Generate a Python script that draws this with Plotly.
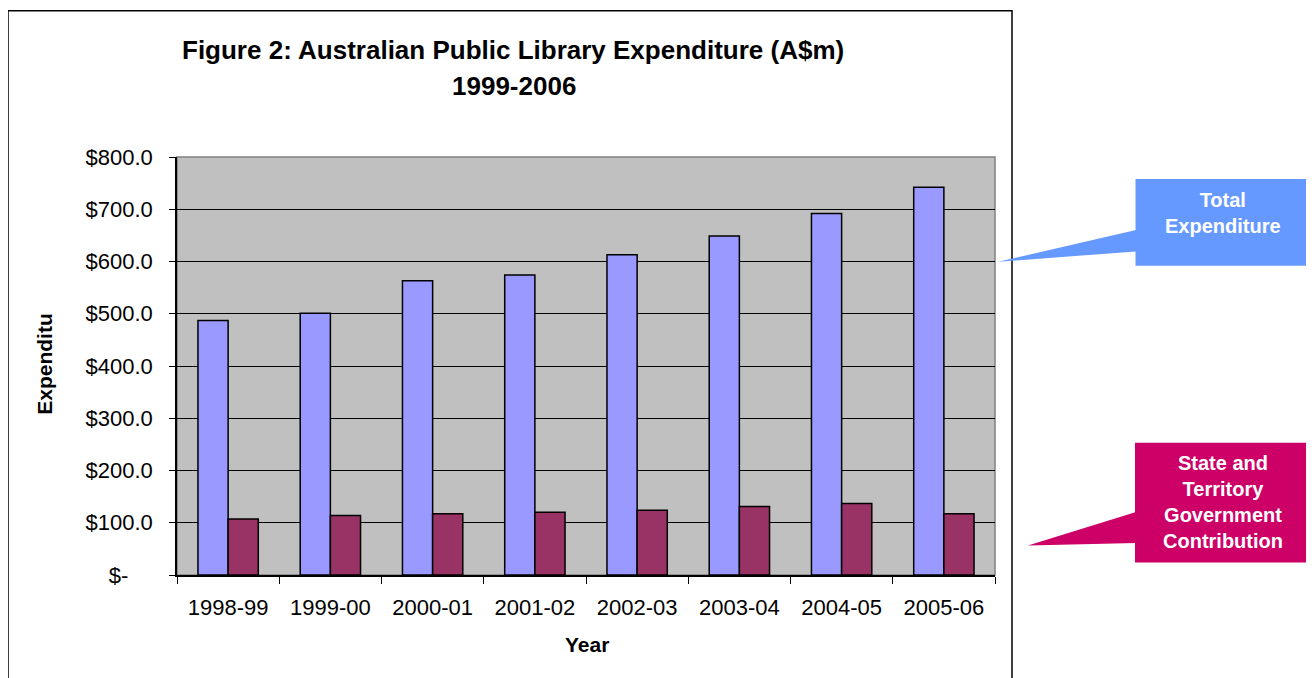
import plotly.graph_objects as go

years = ["1998-99", "1999-00", "2000-01", "2001-02", "2002-03", "2003-04", "2004-05", "2005-06"]
total_expenditure = [487, 501, 563, 574, 613, 649, 692, 742]
state_contribution = [107, 114, 117, 120, 124, 131, 137, 117]
y_tick_vals = [0, 100, 200, 300, 400, 500, 600, 700, 800]
y_tick_text = ["$-" + "\u00a0" * 4, "$100.0", "$200.0", "$300.0", "$400.0", "$500.0", "$600.0", "$700.0", "$800.0"]

FONT = "Liberation Sans, Arial, sans-serif"

# page body margin offset
OFF = 8
# plot area in screen pixels
L, R, T, B = 177, 995, 157, 575.5
W, H = R - L, B - T


def xp(px):
    return (px - L) / W


def yp(py):
    return (B - py) / H


fig = go.Figure()
fig.add_trace(go.Bar(x=years, y=total_expenditure, name="Total Expenditure",
                     marker=dict(color="#9999FF", line=dict(color="#000000", width=1.5))))
fig.add_trace(go.Bar(x=years, y=state_contribution, name="State and Territory Government Contribution",
                     marker=dict(color="#993366", line=dict(color="#000000", width=1.5))))

fig.update_layout(
    width=1314, height=678,
    margin=dict(l=L - OFF, r=1314 - R + OFF, t=T - OFF, b=678 - B + OFF, pad=0),
    paper_bgcolor="white", plot_bgcolor="#C0C0C0",
    barmode="group", bargap=0.41, bargroupgap=0,
    showlegend=False,
    font=dict(family=FONT, size=21, color="black"),
)
fig.update_yaxes(range=[0, 800], tickvals=y_tick_vals, ticktext=y_tick_text,
                 showgrid=True, gridcolor="#000000", gridwidth=1,
                 showline=True, linecolor="#000000", linewidth=1.5,
                 ticks="outside", ticklen=6, tickcolor="#000000", tickwidth=1,
                 tickfont=dict(size=22, family=FONT), ticklabelstandoff=12,
                 zeroline=False, fixedrange=True)
fig.update_xaxes(type="category", tickson="boundaries", ticks="outside", ticklen=7, tickcolor="#000000",
                 showline=True, linecolor="#000000", linewidth=1.5,
                 tickfont=dict(size=22, family=FONT), ticklabelstandoff=12, fixedrange=True)

shapes = []
shapes.append(dict(type="rect", xref="paper", yref="paper", x0=0, x1=1, y0=0, y1=1,
                   line=dict(color="#808080", width=1.5), layer="below"))
shapes.append(dict(type="rect", xref="paper", yref="paper", x0=xp(8), x1=xp(1012), y0=yp(700), y1=yp(10.5),
                   line=dict(color="#000000", width=1.5)))
shapes.append(dict(type="rect", xref="paper", yref="paper", x0=xp(1135.5), x1=xp(1310.5), y0=yp(266), y1=yp(179),
                   fillcolor="#6699FF", line=dict(width=0)))
shapes.append(dict(type="path", xref="paper", yref="paper",
                   path=f"M {xp(1136)} {yp(230)} L {xp(998)} {yp(262)} L {xp(1136)} {yp(251.5)} Z",
                   fillcolor="#6699FF", line=dict(width=0)))
shapes.append(dict(type="rect", xref="paper", yref="paper", x0=xp(1135), x1=xp(1311.5), y0=yp(563), y1=yp(443),
                   fillcolor="#CC0066", line=dict(width=0)))
shapes.append(dict(type="path", xref="paper", yref="paper",
                   path=f"M {xp(1136)} {yp(512.5)} L {xp(1028)} {yp(546)} L {xp(1136)} {yp(543.5)} Z",
                   fillcolor="#CC0066", line=dict(width=0)))
fig.update_layout(shapes=shapes)

ann = []
ann.append(dict(text="<b>Figure 2: Australian Public Library Expenditure (A$m)</b>", x=xp(513), y=yp(50),
                xref="paper", yref="paper", showarrow=False, font=dict(size=26, family=FONT),
                xanchor="center", yanchor="middle"))
ann.append(dict(text="<b>1999-2006</b>", x=xp(514), y=yp(86),
                xref="paper", yref="paper", showarrow=False, font=dict(size=26, family=FONT),
                xanchor="center", yanchor="middle"))
ann.append(dict(text="<b>Expenditu</b>", x=xp(45), y=yp(364), textangle=-90,
                xref="paper", yref="paper", showarrow=False, font=dict(size=21, family=FONT),
                xanchor="center", yanchor="middle"))
ann.append(dict(text="<b>Year</b>", x=xp(587), y=yp(645),
                xref="paper", yref="paper", showarrow=False, font=dict(size=21, family=FONT),
                xanchor="center", yanchor="middle"))
ann.append(dict(text="<b>Total<br>Expenditure</b>", x=xp(1223), y=yp(213.5),
                xref="paper", yref="paper", showarrow=False, font=dict(size=20, family=FONT, color="white"),
                xanchor="center", yanchor="middle"))
ann.append(dict(text="<b>State and<br>Territory<br>Government<br>Contribution</b>", x=xp(1223), y=yp(502),
                xref="paper", yref="paper", showarrow=False, font=dict(size=20, family=FONT, color="white"),
                xanchor="center", yanchor="middle"))
fig.update_layout(annotations=ann)

fig.write_html("out.html")
